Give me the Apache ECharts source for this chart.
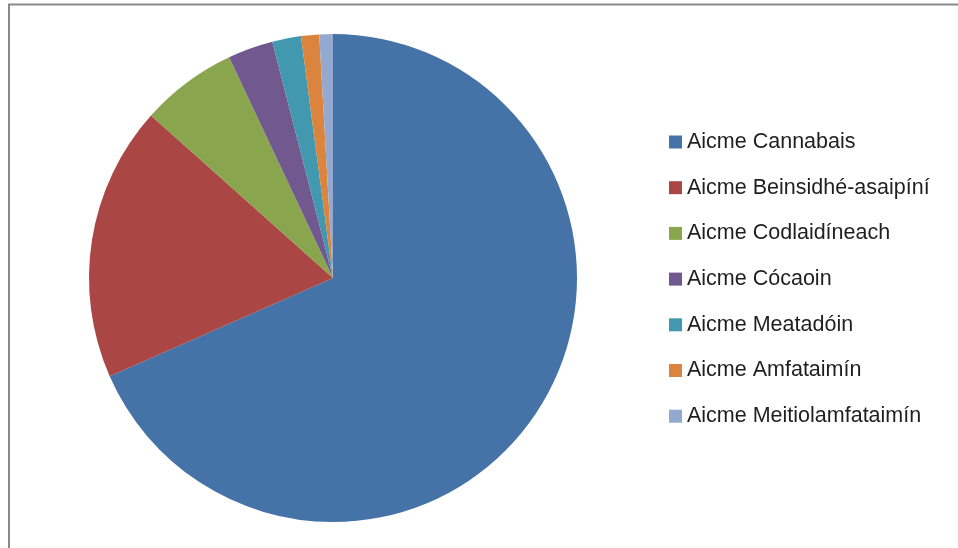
<!DOCTYPE html>
<html>
<head>
<meta charset="utf-8">
<script src="https://cdn.jsdelivr.net/npm/echarts@6/dist/echarts.min.js"></script>
<style>
html,body{margin:0;padding:0;background:#fff;}
#c{width:958px;height:548px;}
</style>
</head>
<body>
<div id="c"></div>
<script>
const categories = ['Aicme Cannabais','Aicme Beinsidhé-asaipíní','Aicme Codlaidíneach','Aicme Cócaoin','Aicme Meatadóin','Aicme Amfataimín','Aicme Meitiolamfataimín'];
const values = [68.4, 18.2, 6.4, 3.0, 1.9, 1.2, 0.9];
const colors = ['#4572A7','#AA4643','#89A54E','#71588F','#4198AF','#DB843D','#93A9CF'];

const chart = echarts.init(document.getElementById('c'), null, {renderer:'canvas'});
chart.setOption({
  animation:false,
  backgroundColor:'#ffffff',
  color: colors,
  graphic:[{
    type:'rect',
    shape:{x:9,y:4.5,width:1000,height:1000},
    style:{fill:'none',stroke:'#898989',lineWidth:2},
    silent:true
  }],
  legend:{
    orient:'vertical',
    left:669,
    top:131,
    padding:0,
    itemWidth:13,
    itemHeight:13,
    itemGap:23.7,
    icon:'rect',
    textStyle:{fontFamily:'Liberation Sans',fontSize:21.5,color:'#1f1f1f',lineHeight:22,padding:[0,0,0,0]},
    data: categories
  },
  series:[{
    type:'pie',
    center:[333,278],
    radius:244,
    startAngle:90,
    clockwise:true,
    label:{show:false},
    labelLine:{show:false},
    itemStyle:{borderWidth:0},
    emphasis:{disabled:true},
    data: categories.map((n,i)=>({name:n,value:values[i]}))
  }]
});
</script>
</body>
</html>
